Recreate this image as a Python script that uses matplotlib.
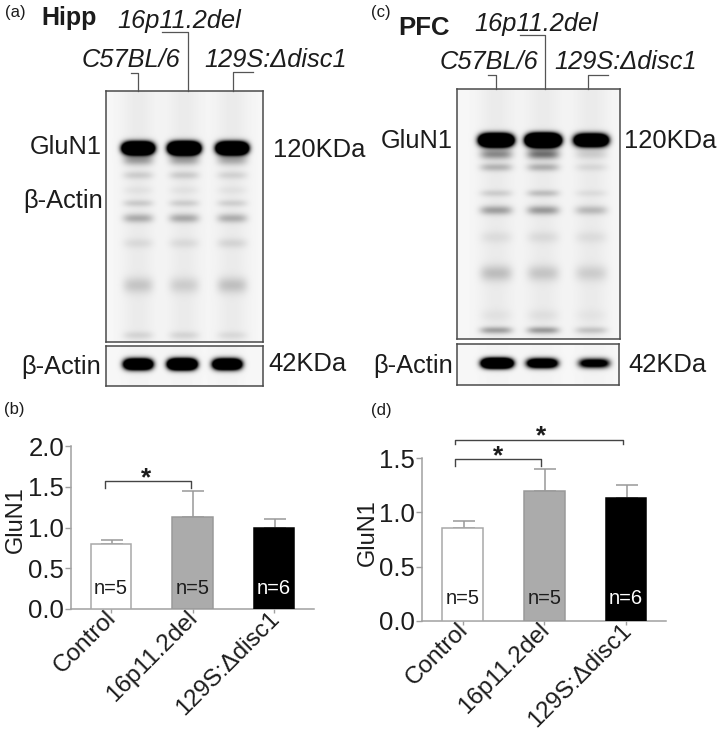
"""GluN1 western blots and quantification for Hipp and PFC (panels a-d)."""
import numpy as np
import matplotlib
matplotlib.use("Agg")
import matplotlib.pyplot as plt
from matplotlib.transforms import ScaledTranslation

W, H = 718, 731
TEXT = "#1c1c1c"
AXIS = "#a0a0a0"
plt.rcParams["font.family"] = ["Liberation Sans", "DejaVu Sans"]

CATEGORIES = ["Control", "16p11.2del", "129S:Δdisc1"]
N_LABELS   = ["n=5", "n=5", "n=6"]
BAR_COLORS = ["white", "#ababab", "black"]
BAR_EDGES  = ["#a8a8a8", "#9a9a9a", "black"]
N_COLORS   = [TEXT, TEXT, "white"]

HIPP_MEAN  = [0.80, 1.13, 1.00]
HIPP_ERR   = [0.05, 0.32, 0.10]
HIPP_TICKS = [0.0, 0.5, 1.0, 1.5, 2.0]

PFC_MEAN  = [0.86, 1.20, 1.13]
PFC_ERR   = [0.06, 0.20, 0.12]
PFC_TICKS = [0.0, 0.5, 1.0, 1.5]

# blots: lane centres, then (row, strength per lane, half height) for each band
HIPP_LANES = [138, 184, 232]
HIPP_BANDS = [
    (148, [4.0, 4.5, 4.0], 5.5),
    (160, [0.30, 0.28, 0.25], 5.0),
    (175, [0.12, 0.13, 0.10], 4.0),
    (190, [0.04, 0.04, 0.04], 4.0),
    (203, [0.13, 0.12, 0.11], 3.5),
    (218, [0.25, 0.26, 0.24], 4.5),
    (243, [0.07, 0.07, 0.09], 5.0),
    (285, [0.15, 0.12, 0.17], 8.0),
    (335, [0.09, 0.09, 0.07], 4.0),
]
HIPP_ACTIN_LANES = [138, 182, 227]
HIPP_ACTIN = [(364, [3.0, 3.5, 3.0], 5.0)]

PFC_LANES = [496, 543, 591]
PFC_BANDS = [
    (140, [4.5, 5.5, 3.5], 5.5),
    (154, [0.38, 0.48, 0.12], 5.0),
    (167, [0.22, 0.24, 0.08], 4.0),
    (193, [0.12, 0.18, 0.06], 3.5),
    (210, [0.30, 0.32, 0.20], 4.5),
    (237, [0.06, 0.07, 0.06], 6.0),
    (273, [0.18, 0.15, 0.12], 8.0),
    (315, [0.04, 0.05, 0.03], 6.0),
    (330, [0.30, 0.32, 0.16], 3.5),
]
PFC_ACTIN_LANES = [497, 542, 594]
PFC_ACTIN = [(363, [3.5, 2.2, 1.5], 4.5)]


def px_axes(x0, y0, x1, y1, **kw):
    """Axes placed by pixel box, y counted from the top of the figure."""
    return fig.add_axes([x0 / W, 1 - y1 / H, (x1 - x0) / W, (y1 - y0) / H], **kw)


def draw_blot(box, lanes, bands, half_width, smear=0.05):
    x0, y0, x1, y1 = box
    xs = np.arange(x0, x1, 0.5)
    ys = np.arange(y0, y1, 0.5)
    X, Y = np.meshgrid(xs, ys)
    dark = np.zeros_like(X)
    for i, lane in enumerate(lanes):
        across = np.exp(-(np.abs(X - lane) / half_width) ** 4)
        dark += smear * np.exp(-((X - lane) / (half_width * 1.1)) ** 2)
        for row, strength, half_h in bands:
            dark += strength[i] * across * np.exp(-((Y - row) / half_h) ** 2)
    ax = px_axes(*box)
    ax.imshow(0.97 - np.clip(dark, 0, 0.97), cmap="gray", vmin=0, vmax=1,
              aspect="auto", extent=(x0, x1, y1, y0), interpolation="bilinear")
    ax.set_xticks([])
    ax.set_yticks([])
    for s in ax.spines.values():
        s.set_color("#4a4a4a")
        s.set_linewidth(1.1)


def draw_bars(box, xlim, ymax, means, errs, ticks, n_y):
    ax = px_axes(*box)
    xpos = np.arange(len(means))
    ax.bar(xpos, means, width=0.5, color=BAR_COLORS, edgecolor=BAR_EDGES,
           linewidth=1.1, zorder=3)
    ax.errorbar(xpos + 0.01, means, yerr=[[0] * len(errs), errs], fmt="none",
                ecolor="#999999", elinewidth=1.1, capsize=7.8, capthick=1.1, zorder=2)
    for x, label, c in zip(xpos, N_LABELS, N_COLORS):
        ax.text(x, n_y, label, color=c, ha="center", va="center", fontsize=14.5, zorder=4)
    ax.set_xlim(*xlim)
    ax.set_ylim(0, ymax)
    ax.set_yticks(ticks)
    ax.set_yticklabels([f"{t:.1f}" for t in ticks], fontsize=18.5, color=TEXT)
    ax.set_xticks(xpos)
    ax.set_xticklabels(CATEGORIES, fontsize=17.5, color=TEXT, rotation=45,
                       ha="right", rotation_mode="anchor")
    ax.tick_params(axis="y", length=4, width=1, color=AXIS, pad=1)
    ax.tick_params(axis="x", length=3, width=1, color=AXIS, pad=0)
    # after tick_params, which resets the label transforms
    nudge = ScaledTranslation(-6 / 100, 6 / 100, fig.dpi_scale_trans)
    for lab in ax.get_xticklabels():
        lab.set_transform(lab.get_transform() + nudge)
    for s in ("top", "right"):
        ax.spines[s].set_visible(False)
    for s in ("left", "bottom"):
        ax.spines[s].set_color(AXIS)
        ax.spines[s].set_linewidth(1.1)
    ax.patch.set_alpha(0)
    return ax


def bracket(ax, x0, x1, top, leg, star_x, star_y):
    ax.plot([x0, x0, x1, x1], [leg, top, top, leg], color="#444444", lw=1.0,
            clip_on=False, zorder=5)
    ax.text(star_x, star_y, "*", fontsize=19, fontweight="bold", color=TEXT,
            ha="center", va="center", clip_on=False)


fig = plt.figure(figsize=(W / 100, H / 100), dpi=100)

draw_blot((106, 91, 263, 342), HIPP_LANES, HIPP_BANDS, 15)
draw_blot((106, 346, 263, 386), HIPP_ACTIN_LANES, HIPP_ACTIN, 14, smear=0.02)
draw_blot((457, 89, 620, 339), PFC_LANES, PFC_BANDS, 16)
draw_blot((457, 344, 619, 385), PFC_ACTIN_LANES, PFC_ACTIN, 15, smear=0.02)

ax_b = draw_bars((71, 446, 314, 609), (-0.49, 2.49), 2.0, HIPP_MEAN, HIPP_ERR, HIPP_TICKS, 0.25)
ax_b.set_ylabel("GluN1", fontsize=17, color=TEXT)
ax_b.yaxis.set_label_coords(-0.183, 0.546)
bracket(ax_b, -0.07, 0.98, 1.57, 1.49, 0.43, 1.60)

ax_d = draw_bars((422, 458, 666, 621), (-0.50, 2.49), 1.5, PFC_MEAN, PFC_ERR, PFC_TICKS, 0.21)
ax_d.set_ylabel("GluN1", fontsize=17, color=TEXT)
ax_d.yaxis.set_label_coords(-0.177, 0.544)
bracket(ax_d, -0.10, 0.96, 1.49, 1.43, 0.435, 1.52)
bracket(ax_d, -0.10, 1.96, 1.67, 1.63, 0.96, 1.70)

# overlay in pixel coordinates for labels and lane leader lines
ov = fig.add_axes([0, 0, 1, 1])
ov.set_xlim(0, W)
ov.set_ylim(H, 0)
ov.axis("off")
ov.patch.set_alpha(0)

LABELS = [
    ("(a)", 5, 17, 12, "normal", "normal"),
    ("(c)", 371, 17, 12, "normal", "normal"),
    ("(b)", 4, 414, 12, "normal", "normal"),
    ("(d)", 371, 415, 12, "normal", "normal"),
    ("Hipp", 41, 25, 18, "bold", "normal"),
    ("PFC", 398, 35, 18.5, "bold", "normal"),
    ("16p11.2del", 117, 28, 18.3, "normal", "italic"),
    ("C57BL/6", 82, 67, 18.3, "normal", "italic"),
    ("129S:Δdisc1", 204, 67, 18.3, "normal", "italic"),
    ("16p11.2del", 474, 31, 18.3, "normal", "italic"),
    ("C57BL/6", 440, 69, 18.3, "normal", "italic"),
    ("129S:Δdisc1", 554, 69, 18.3, "normal", "italic"),
    ("GluN1", 30, 154, 18.3, "normal", "normal"),
    ("β-Actin", 23, 208, 18.3, "normal", "normal"),
    ("120KDa", 273, 157, 18.4, "normal", "normal"),
    ("β-Actin", 21, 374, 18.3, "normal", "normal"),
    ("42KDa", 268, 371, 18.4, "normal", "normal"),
    ("GluN1", 381, 148, 18.3, "normal", "normal"),
    ("120KDa", 624, 148, 18.4, "normal", "normal"),
    ("β-Actin", 373, 373, 18.3, "normal", "normal"),
    ("42KDa", 628, 372, 18.4, "normal", "normal"),
]
for s, x, y, size, weight, style in LABELS:
    ov.text(x, y, s, fontsize=size, fontweight=weight, fontstyle=style, color=TEXT,
            ha="left", va="baseline")

LEADERS = [
    ([131, 138, 138], [73, 73, 91]),
    ([162, 187.5, 187.5], [32, 32, 91]),
    ([253, 233, 233], [72, 72, 91]),
    ([488, 496, 496], [75, 75, 89]),
    ([520, 545, 545], [35, 35, 89]),
    ([608, 588, 588], [75, 75, 89]),
]
for xs, ys in LEADERS:
    ov.plot(xs, ys, color="#555555", lw=0.9)

fig.savefig("out.png", dpi=100)
